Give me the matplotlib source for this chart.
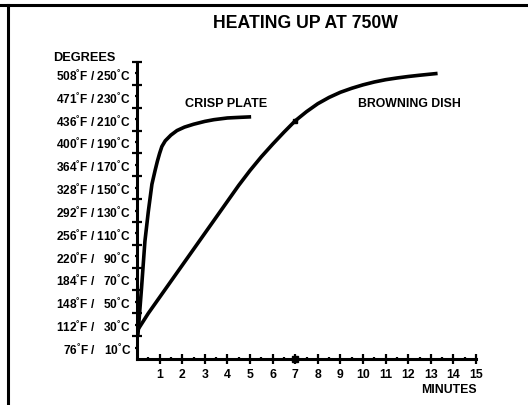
import numpy as np
import matplotlib
matplotlib.use('Agg')
import matplotlib.pyplot as plt
from matplotlib.lines import Line2D

plt.rcParams['font.family'] = ['Liberation Sans', 'DejaVu Sans']
plt.rcParams['font.weight'] = 'bold'
plt.rcParams['mathtext.fontset'] = 'custom'
plt.rcParams['mathtext.rm'] = 'Liberation Sans:bold'
plt.rcParams['mathtext.default'] = 'rm'

# ---- data ----
crisp_min = [0.04, 0.2, 0.35, 0.5, 0.66, 0.8, 0.9, 1.0, 1.1, 1.25, 1.5, 1.77,
             2.1, 2.5, 3.0, 3.4, 4.0, 4.5, 5.05]
crisp_degc = [21, 62, 103, 129, 153, 165, 173, 180, 186, 191, 196, 200,
              203, 205.5, 208, 209.5, 211, 211.5, 212]

dish_min = [0.05, 0.5, 1, 1.5, 2, 2.5, 3, 3.5, 4, 4.5, 5, 5.5, 6, 6.5, 7,
            7.5, 8, 8.5, 9, 9.5, 10, 10.5, 11, 11.5, 12, 12.5, 13.3]
dish_degc = [26, 40, 54, 68, 82, 96, 110, 124, 138, 152, 165, 177, 188, 198.5, 208.5,
             216.5, 223.5, 229, 233.5, 237, 240, 242.5, 244.5, 246, 247.3, 248.4, 250]

temp_c = [10, 30, 50, 70, 90, 110, 130, 150, 170, 190, 210, 230, 250]
temp_f = [76, 112, 148, 184, 220, 256, 292, 328, 364, 400, 436, 471, 508]
minutes = list(range(1, 16))

W, H = 528, 406
fig = plt.figure(figsize=(W / 100, H / 100), dpi=100)
ax = fig.add_axes([137 / W, 1 - 360 / H, 339 / W, 297 / H])

ax.plot(crisp_min, crisp_degc, color='black', lw=2.6, solid_capstyle='butt', solid_joinstyle='round')
ax.plot(dish_min, dish_degc, color='black', lw=2.6, solid_capstyle='butt', solid_joinstyle='round')
# small marker on browning dish at 7 min
ax.plot([7.0], [np.interp(7.0, dish_min, dish_degc)], marker='s', ms=3, color='black')

ax.set_xlim(0, 15)
ax.set_ylim(0, 260)

for s in ['top', 'right']:
    ax.spines[s].set_visible(False)
for s in ['left', 'bottom']:
    ax.spines[s].set_linewidth(2.2)

# y ticks: long unlabeled at 20s, short labelled at odd tens
ax.set_yticks(list(range(20, 261, 20)))
ax.set_yticklabels([])
ax.set_yticks(temp_c, minor=True)
ylabels = []
for f, c in zip(temp_f, temp_c):
    cs = f'{c}' if c >= 100 else f'  {c}'
    fs = f'{f}' if f >= 100 else f' {f}'
    ylabels.append(f'{fs}$^{{°}}$F / {cs}$^{{°}}$C')
ax.set_yticklabels(ylabels, minor=True, fontsize=8.6, fontweight='bold')
ax.tick_params(axis='y', which='major', direction='inout', length=7, width=1.6)
ax.tick_params(axis='y', which='minor', direction='inout', length=3.5, width=1.6, pad=2.5)

# x ticks
ax.set_xticks(minutes)
ax.set_xticklabels([str(m) for m in minutes], fontsize=8.8, fontweight='bold')
ax.set_xticks([m - 0.5 for m in minutes], minor=True)
ax.tick_params(axis='x', which='major', direction='inout', length=7, width=1.6, pad=3)
ax.tick_params(axis='x', which='minor', direction='inout', length=3.5, width=1.6)
# thick tick mark at 7 min
ax.plot([7], [0], marker='s', ms=4.5, color='black', clip_on=False, zorder=5)

fig.text(305 / W, 1 - 24 / H, 'HEATING UP AT 750W', ha='center', va='center',
         fontsize=12.7, fontweight='bold')
fig.text(53 / W, 1 - 58 / H, 'DEGREES', ha='left', va='center', fontsize=9.2, fontweight='bold')
fig.text(477 / W, 1 - 390 / H, 'MINUTES', ha='right', va='center', fontsize=8.8, fontweight='bold')
fig.text(226 / W, 1 - 104 / H, 'CRISP PLATE', ha='center', va='center', fontsize=9.1, fontweight='bold')
fig.text(409 / W, 1 - 104 / H, 'BROWNING DISH', ha='center', va='center', fontsize=8.8, fontweight='bold')

# outer frame (left and top only)
fig.add_artist(Line2D([0, 1], [1 - 5.5 / H, 1 - 5.5 / H], transform=fig.transFigure, color='black', lw=2.2))
fig.add_artist(Line2D([7.5 / W, 7.5 / W], [0, 1 - 5.5 / H], transform=fig.transFigure, color='black', lw=2.2))

fig.savefig('out.png', dpi=100, facecolor='white')
